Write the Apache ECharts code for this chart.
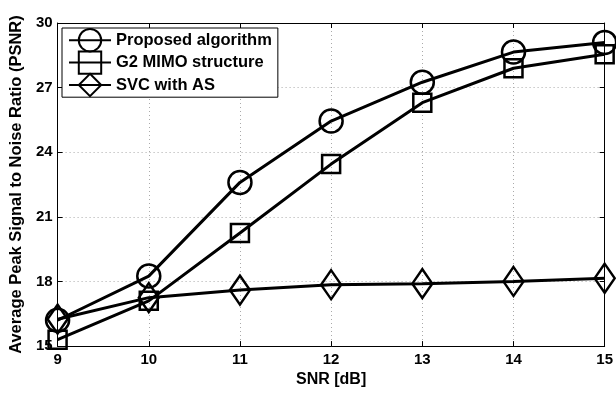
<!DOCTYPE html>
<html><head><meta charset="utf-8">
<script src="https://cdn.jsdelivr.net/npm/echarts@6/dist/echarts.min.js"></script>
<style>html,body{margin:0;padding:0;background:#fff}#c{width:616px;height:393px}</style>
</head><body><div id="c"></div>
<script>
const snr = [9, 10, 11, 12, 13, 14, 15];
const proposed = [16.2, 18.25, 22.6, 25.45, 27.25, 28.65, 29.1];
const g2mimo = [15.3, 17.1, 20.25, 23.45, 26.3, 27.9, 28.55];
const svcAS = [16.25, 17.25, 17.6, 17.85, 17.9, 18.0, 18.15];
const seriesNames = ['Proposed algorithm', 'G2 MIMO structure', 'SVC with AS'];
const xLabel = 'SNR [dB]';
const yLabel = 'Average Peak Signal to Noise Ratio (PSNR)';

const pairs = a => snr.map((x, i) => [x, a[i]]);
const base = {fontFamily: 'Liberation Sans, Arial, sans-serif', fontWeight: 'bold', color: '#000'};
const f = s => Object.assign({fontSize: s}, base);
const mk = (name, data, symbol, size) => ({
  name, type: 'line', data: pairs(data), symbol, symbolSize: size,
  lineStyle: {color: '#000', width: 3},
  itemStyle: {color: 'rgba(0,0,0,0)', borderColor: '#000', borderWidth: 2.5},
  emphasis: {disabled: true}, z: 3
});
const chart = echarts.init(document.getElementById('c'));
chart.setOption({
  animation: false,
  backgroundColor: '#fff',
  grid: {left: 54, right: 9, top: 23, bottom: 43},
  legend: {
    left: 62, top: 28, orient: 'vertical', itemGap: -2, itemWidth: 42, itemHeight: 28,
    backgroundColor: '#fff', borderColor: '#000', borderWidth: 1, padding: [0, 6, 0, 6],
    textStyle: f(16.5),
    data: seriesNames
  },
  xAxis: [{
    type: 'value', min: 9, max: 15, interval: 1, name: xLabel, nameLocation: 'middle', nameGap: 23,
    nameTextStyle: f(16), axisLabel: Object.assign({margin: 6}, f(15)),
    axisLine: {lineStyle: {color: '#000', width: 1}}, axisTick: {inside: true, length: 5, lineStyle: {color: '#000'}},
    splitLine: {show: true, lineStyle: {color: '#aaa', type: [1, 3], width: 1}}
  }, {
    type: 'value', position: 'top', min: 9, max: 15, interval: 1,
    axisLabel: {show: false}, axisLine: {lineStyle: {color: '#000', width: 1}},
    axisTick: {inside: true, length: 5, lineStyle: {color: '#000'}}, splitLine: {show: false}
  }],
  yAxis: [{
    type: 'value', min: 15, max: 30, interval: 3, name: yLabel, nameLocation: 'middle', nameGap: 30,
    nameTextStyle: f(16.5), axisLabel: Object.assign({margin: 5}, f(15)),
    axisLine: {show: true, lineStyle: {color: '#000', width: 1}}, axisTick: {show: true, inside: true, length: 5, lineStyle: {color: '#000'}},
    splitLine: {show: true, lineStyle: {color: '#aaa', type: [1, 3], width: 1}}
  }, {
    type: 'value', position: 'right', min: 15, max: 30, interval: 3,
    axisLabel: {show: false}, axisLine: {show: true, lineStyle: {color: '#000', width: 1}},
    axisTick: {show: true, inside: true, length: 5, lineStyle: {color: '#000'}}, splitLine: {show: false}
  }],
  series: [
    mk(seriesNames[0], proposed, 'circle', 23),
    mk(seriesNames[1], g2mimo, 'rect', 18),
    mk(seriesNames[2], svcAS, 'diamond', [20, 29])
  ]
});
</script></body></html>
